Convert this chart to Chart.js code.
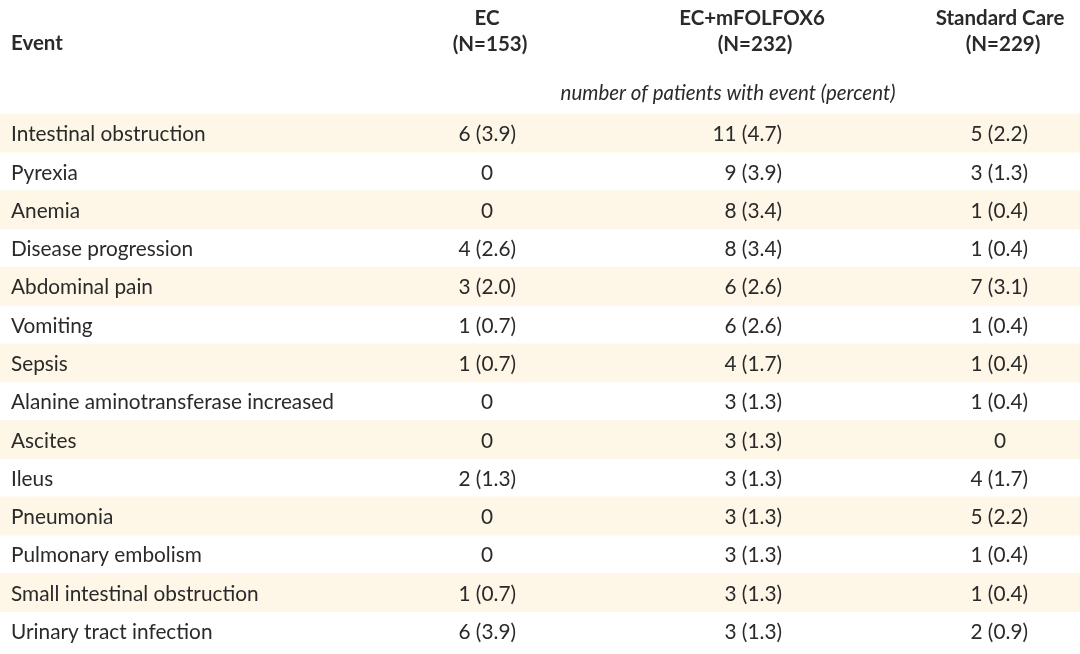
<!DOCTYPE html>
<html>
<head>
<meta charset="utf-8">
<script src="https://cdn.jsdelivr.net/npm/chart.js@4.4.1/dist/chart.umd.min.js"></script>
<style>
  html, body { margin: 0; padding: 0; background: #fff; }
  #wrap { width: 1080px; height: 654px; }
</style>
</head>
<body>
<div id="wrap"><canvas id="tbl"></canvas></div>
<script>
const events = [
    'Intestinal obstruction', 'Pyrexia', 'Anemia', 'Disease progression',
    'Abdominal pain', 'Vomiting', 'Sepsis', 'Alanine aminotransferase increased',
    'Ascites', 'Ileus', 'Pneumonia', 'Pulmonary embolism',
    'Small intestinal obstruction', 'Urinary tract infection'
];
const ecValues = ['6 (3.9)', '0', '0', '4 (2.6)', '3 (2.0)', '1 (0.7)', '1 (0.7)', '0', '0', '2 (1.3)', '0', '0', '1 (0.7)', '6 (3.9)'];
const folfoxValues = ['11 (4.7)', '9 (3.9)', '8 (3.4)', '8 (3.4)', '6 (2.6)', '6 (2.6)', '4 (1.7)', '3 (1.3)', '3 (1.3)', '3 (1.3)', '3 (1.3)', '3 (1.3)', '3 (1.3)', '3 (1.3)'];
const careValues = ['5 (2.2)', '3 (1.3)', '1 (0.4)', '1 (0.4)', '7 (3.1)', '1 (0.4)', '1 (0.4)', '1 (0.4)', '0', '4 (1.7)', '5 (2.2)', '1 (0.4)', '1 (0.4)', '2 (0.9)'];
const columnTitles = ['EC', 'EC+mFOLFOX6', 'Standard Care'];
const columnCounts = ['(N=153)', '(N=232)', '(N=229)'];
const rowHeader = 'Event';
const unitNote = 'number of patients with event (percent)';

const FONT = 'Lato, "Open Sans", sans-serif';
const TEXT = '#2a2a2a';

// column geometry on the 0..1080 x scale: center and right edge of values
const cols = [
    { center: 487, right: 516, values: ecValues },
    { center: 752, right: 782, values: folfoxValues },
    { center: 1000, right: 1028, values: careValues }
];

const tableText = {
    id: 'tableText',
    afterDatasetsDraw(chart) {
        const ctx = chart.ctx;
        const x = chart.scales.x;
        const y = chart.scales.y;
        ctx.save();
        ctx.fillStyle = TEXT;
        ctx.textBaseline = 'middle';

        // header
        ctx.font = 'bold 20.5px ' + FONT;
        ctx.textAlign = 'left';
        ctx.fillText(rowHeader, x.getPixelForValue(11), 43);
        ctx.textAlign = 'center';
        cols.forEach((c, i) => {
            const cx = x.getPixelForValue(c.center);
            ctx.fillText(columnTitles[i], cx, 18);
            ctx.fillText(columnCounts[i], cx + 3, 44);
        });
        ctx.font = 'italic 20.5px ' + FONT;
        ctx.fillText(unitNote, x.getPixelForValue(728), 93);

        // body rows
        ctx.font = '20.8px ' + FONT;
        events.forEach((name, i) => {
            const py = y.getPixelForValue(i) + 1.5;
            ctx.textAlign = 'left';
            ctx.fillText(name, x.getPixelForValue(11), py);
            cols.forEach(c => {
                const v = c.values[i];
                if (v === '0') {
                    ctx.textAlign = 'center';
                    ctx.fillText(v, x.getPixelForValue(c.center), py);
                } else {
                    ctx.textAlign = 'right';
                    ctx.fillText(v, x.getPixelForValue(c.right), py);
                }
            });
        });
        ctx.restore();
    }
};

new Chart(document.getElementById('tbl'), {
    type: 'bar',
    data: {
        labels: events,
        datasets: [{
            // alternating row shading
            data: events.map((e, i) => i % 2 === 0 ? [0, 1080] : null),
            backgroundColor: '#fef7e7',
            borderWidth: 0,
            categoryPercentage: 1,
            barPercentage: 1
        }]
    },
    options: {
        indexAxis: 'y',
        responsive: true,
        maintainAspectRatio: false,
        animation: false,
        layout: { padding: { top: 114, bottom: 4, left: 0, right: 0 } },
        scales: {
            x: { type: 'linear', min: 0, max: 1080, display: false },
            y: { type: 'category', display: false, offset: true }
        },
        plugins: {
            legend: { display: false },
            tooltip: { enabled: false }
        }
    },
    plugins: [tableText]
});
</script>
</body>
</html>
